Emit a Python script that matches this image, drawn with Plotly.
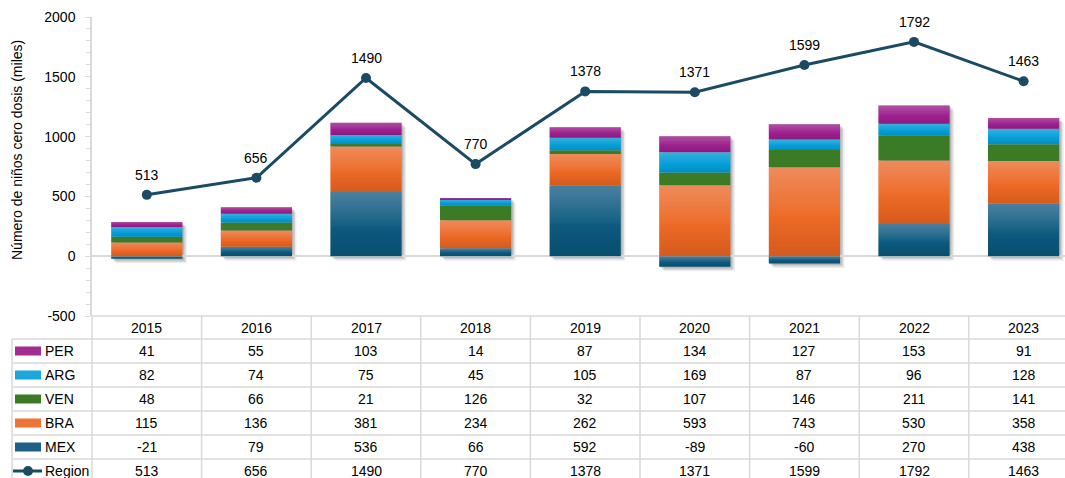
import plotly.graph_objects as go

W, H = 1065, 478

years = ["2015", "2016", "2017", "2018", "2019", "2020", "2021", "2022", "2023"]
per = [41, 55, 103, 14, 87, 134, 127, 153, 91]
arg = [82, 74, 75, 45, 105, 169, 87, 96, 128]
ven = [48, 66, 21, 126, 32, 107, 146, 211, 141]
bra = [115, 136, 381, 234, 262, 593, 743, 530, 358]
mex = [-21, 79, 536, 66, 592, -89, -60, 270, 438]
region = [513, 656, 1490, 770, 1378, 1371, 1599, 1792, 1463]

# (name, values, base colour, gradient strength)
series = [
    ("MEX", mex, "#0F5B80", 1.0),
    ("BRA", bra, "#EE6B26", 1.0),
    ("VEN", ven, "#3C7B26", 0.0),
    ("ARG", arg, "#07A0DB", 0.8),
    ("PER", per, "#9E2290", 0.8),
]
line_color = "#1B4A63"
font_family = "Liberation Sans, Arial, sans-serif"
grid_col = "#D9D9D9"
txt = "#000000"

x = list(range(len(years)))
bar_w = 0.65

fig = go.Figure()
for name, vals, col, _g in series:
    fig.add_trace(go.Bar(x=x, y=vals, name=name, marker=dict(color=col, line=dict(width=0)),
                         width=bar_w, showlegend=False))
fig.add_trace(go.Scatter(x=x, y=region, mode="lines+markers", name="Region",
                         line=dict(color=line_color, width=3),
                         marker=dict(color=line_color, size=10), showlegend=False))

for i, v in enumerate(region):
    fig.add_annotation(x=i, y=v, text=str(v), showarrow=False, yshift=20, yanchor="middle",
                       font=dict(size=14, color=txt, family=font_family))

def py(p):
    return 1 - p / H

plot_top, plot_bot = 17, 316
axis_left = 92
ncat = len(years)
col_w = 109.6
x_hi = -0.5 + (W - axis_left) / col_w
y_lo, y_hi = -500, 2000
units_per_px = (y_hi - y_lo) / (plot_bot - plot_top)

shapes = []
# soft drop shadows behind each stacked bar
for i in range(ncat):
    vals = [s[1][i] for s in series]
    top = sum(v for v in vals if v > 0)
    bot = sum(v for v in vals if v < 0)
    for off, a in ((1.5, 0.12), (3.0, 0.12), (4.5, 0.07)):
        sx = off / col_w
        sy = off * units_per_px
        shapes.append(dict(type="rect", xref="x", yref="y", layer="below",
                           x0=i - bar_w / 2 + sx, x1=i + bar_w / 2 + sx,
                           y0=bot - sy, y1=top - sy,
                           fillcolor=f"rgba(0,0,0,{a})", line=dict(width=0)))

# gradient overlays per segment: nested translucent rects (no seams)
n_light, n_dark = 16, 8
light_max, dark_max = 0.30, 0.10
for i in range(ncat):
    pos, neg = 0.0, 0.0
    for name, vals, col, g in series:
        v = vals[i]
        if v >= 0:
            y0, y1 = pos, pos + v
            pos += v
        else:
            y0, y1 = neg + v, neg
            neg += v
        if g <= 0 or v == 0:
            continue
        h = y1 - y0
        a_l = light_max * g / n_light
        for k in range(1, n_light + 1):
            depth = 0.55 * k / n_light
            shapes.append(dict(type="rect", xref="x", yref="y", layer="above",
                               x0=i - bar_w / 2, x1=i + bar_w / 2, y0=y1 - h * depth, y1=y1,
                               fillcolor=f"rgba(240,240,240,{a_l:.4f})", line=dict(width=0)))
        a_d = dark_max * g / n_dark
        for k in range(1, n_dark + 1):
            depth = 0.45 * k / n_dark
            shapes.append(dict(type="rect", xref="x", yref="y", layer="above",
                               x0=i - bar_w / 2, x1=i + bar_w / 2, y0=y0, y1=y0 + h * depth,
                               fillcolor=f"rgba(0,0,0,{a_d:.4f})", line=dict(width=0)))

header_top, header_bot = 316, 339
row_h = 24
row_names = ["PER", "ARG", "VEN", "BRA", "MEX", "Region"]
row_vals = [per, arg, ven, bra, mex, region]
row_cols = ["#A22C92", "#1AA6DF", "#3C7B26", "#EE7433", "#1F6186", line_color]
table_left = 12

shapes.append(dict(type="line", xref="paper", yref="paper", x0=axis_left / W, x1=1,
                   y0=py(header_top), y1=py(header_top), line=dict(color=grid_col, width=1.5)))
for r in range(len(row_names)):
    yy = header_bot + r * row_h
    shapes.append(dict(type="line", xref="paper", yref="paper", x0=table_left / W, x1=1,
                       y0=py(yy), y1=py(yy), line=dict(color=grid_col, width=1.5)))
shapes.append(dict(type="line", xref="paper", yref="paper", x0=table_left / W, x1=table_left / W,
                   y0=py(header_bot), y1=0, line=dict(color=grid_col, width=1.5)))
for k in range(ncat):
    xx = k + 0.5
    shapes.append(dict(type="line", xref="x", yref="paper", x0=xx, x1=xx,
                       y0=py(header_top), y1=0, line=dict(color=grid_col, width=1.5)))
shapes.append(dict(type="line", xref="paper", yref="paper", x0=axis_left / W, x1=axis_left / W,
                   y0=py(header_top), y1=0, line=dict(color=grid_col, width=1.5)))

for i, yv in enumerate(years):
    fig.add_annotation(x=i, y=py((header_top + header_bot) / 2), yref="paper", text=yv,
                       showarrow=False, xanchor="center", yanchor="middle",
                       font=dict(size=14, color=txt, family=font_family))

for r, (nm, vals, col) in enumerate(zip(row_names, row_vals, row_cols)):
    yc = header_bot + r * row_h + row_h / 2
    for i, v in enumerate(vals):
        fig.add_annotation(x=i, y=py(yc), yref="paper", text=str(v), showarrow=False,
                           xanchor="center", yanchor="middle",
                           font=dict(size=14, color=txt, family=font_family))
    fig.add_annotation(x=43 / W, y=py(yc), xref="paper", yref="paper", text=nm, showarrow=False,
                       xanchor="left", yanchor="middle",
                       font=dict(size=14, color=txt, family=font_family))
    if nm != "Region":
        shapes.append(dict(type="rect", xref="paper", yref="paper", x0=15 / W, x1=41 / W,
                           y0=py(yc + 4.5), y1=py(yc - 4.5), fillcolor=col, line=dict(width=0)))
    else:
        shapes.append(dict(type="line", xref="paper", yref="paper", x0=13 / W, x1=42 / W,
                           y0=py(yc), y1=py(yc), line=dict(color=col, width=3)))
        shapes.append(dict(type="circle", xref="paper", yref="paper", x0=23 / W, x1=33 / W,
                           y0=py(yc + 5), y1=py(yc - 5), fillcolor=col, line=dict(width=0)))

fig.add_annotation(x=17 / W, y=py(150), xref="paper", yref="paper",
                   text="Número de niños cero dosis (miles)", textangle=-90, showarrow=False,
                   xanchor="center", yanchor="middle",
                   font=dict(size=14, color=txt, family=font_family))

ytick_vals = [-500, 0, 500, 1000, 1500, 2000]
ytick_text = [str(v) for v in ytick_vals]

fig.update_layout(
    width=W, height=H,
    margin=dict(l=0, r=0, t=0, b=0, pad=0, autoexpand=False),
    paper_bgcolor="white", plot_bgcolor="white",
    barmode="relative",
    shapes=shapes,
    font=dict(family=font_family, size=14, color=txt),
    xaxis=dict(domain=[axis_left / W, 1], range=[-0.5, x_hi], showticklabels=False,
               showgrid=False, zeroline=False, showline=False, ticks="", automargin=False),
    yaxis=dict(domain=[py(plot_bot), py(plot_top)], range=[y_lo, y_hi],
               tickvals=ytick_vals, ticktext=ytick_text, automargin=False,
               showgrid=False, zeroline=True, zerolinecolor=grid_col, zerolinewidth=2,
               showline=True, linecolor=grid_col, linewidth=1.5,
               ticks="outside", ticklen=5, tickcolor=grid_col, ticklabelstandoff=7,
               minor=dict(dtick=100, ticks="outside", ticklen=4, tickcolor=grid_col),
               tickfont=dict(size=14, color=txt, family=font_family)),
)

fig.write_html("out.html")
